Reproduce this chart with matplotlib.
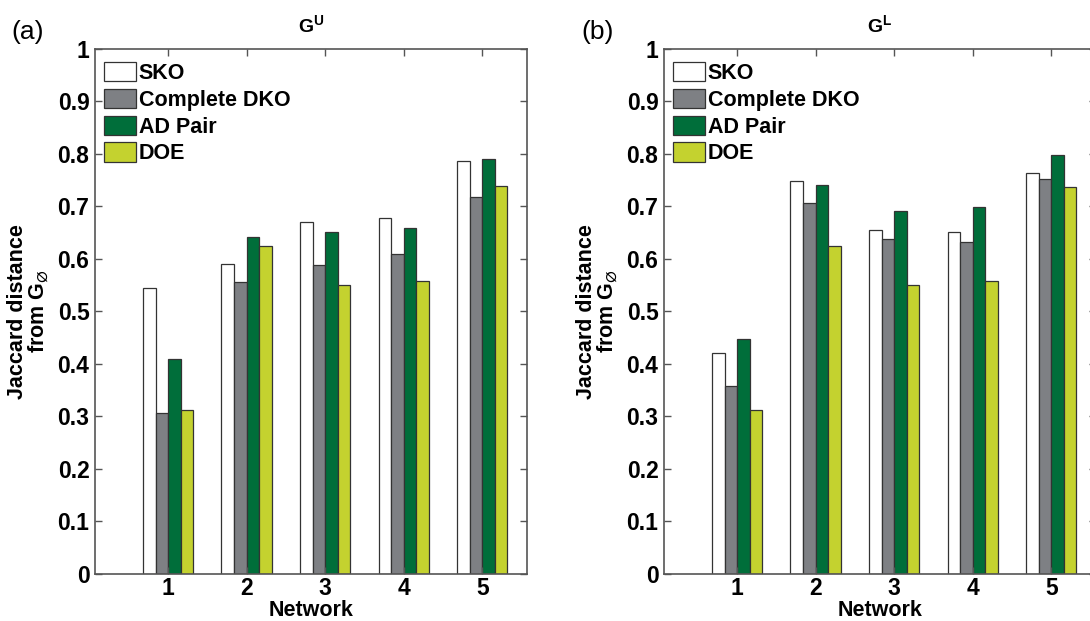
import numpy as np
import matplotlib
matplotlib.use("Agg")
import matplotlib.pyplot as plt

plt.rcParams['font.family'] = ['Liberation Sans', 'DejaVu Sans']
plt.rcParams['font.weight'] = 'bold'
plt.rcParams['mathtext.fontset'] = 'custom'
plt.rcParams['mathtext.rm'] = 'Liberation Sans:bold'
plt.rcParams['mathtext.bf'] = 'Liberation Sans:bold'
plt.rcParams['mathtext.it'] = 'Liberation Sans:bold:italic'
plt.rcParams['mathtext.fallback'] = 'stixsans'

# data
networks = ['1', '2', '3', '4', '5']
series = ['SKO', 'Complete DKO', 'AD Pair', 'DOE']

gu_sko = [0.545, 0.590, 0.671, 0.679, 0.787]
gu_dko = [0.307, 0.557, 0.589, 0.610, 0.718]
gu_ad = [0.409, 0.641, 0.651, 0.659, 0.790]
gu_doe = [0.312, 0.624, 0.550, 0.559, 0.739]

gl_sko = [0.420, 0.748, 0.655, 0.651, 0.763]
gl_dko = [0.359, 0.706, 0.639, 0.633, 0.753]
gl_ad = [0.448, 0.740, 0.692, 0.699, 0.799]
gl_doe = [0.312, 0.624, 0.550, 0.559, 0.738]

colors = ['#ffffff', '#7e8084', '#006e3a', '#c4d22f']
edge = '#333333'
spine_col = '#555555'


def draw_panel(ax, values, title, tag):
    x = np.arange(1, len(networks) + 1)
    w = 0.16
    for i, (vals, name) in enumerate(zip(values, series)):
        ax.bar(x + (i - 1.5) * w, vals, w, color=colors[i], edgecolor=edge,
               linewidth=0.9, label=name)
    ax.set_xlim(0.07, 5.57)
    ax.set_ylim(0, 1)
    ax.set_xticks(x)
    ax.set_xticklabels(networks)
    ax.set_yticks(np.arange(0, 1.01, 0.1))
    ax.set_yticklabels(['0'] + ['%.1f' % v for v in np.arange(0.1, 0.95, 0.1)] + ['1'])
    ax.tick_params(direction='in', length=5, width=1, color=spine_col,
                   top=True, right=True, labelsize=16.5, pad=4)
    ax.tick_params(axis='x', pad=2)
    for s in ax.spines.values():
        s.set_color(spine_col)
        s.set_linewidth(1.2)
    ax.set_xlabel('Network', fontsize=15.5, fontweight='bold', labelpad=0)
    ax.set_ylabel('Jaccard distance\nfrom $\\mathbf{G}_{\\varnothing}$', fontsize=15.5,
                  fontweight='bold', labelpad=5, linespacing=0.9)
    ax.set_title('$\\mathbf{G^{U}}$' if title == 'U' else '$\\mathbf{G^{L}}$',
                 fontsize=14, pad=12)
    ax.text(-0.155, 1.01, tag, transform=ax.transAxes, fontsize=19,
            fontweight='normal', ha='center', va='bottom')
    ax.legend(loc='upper left', bbox_to_anchor=(0.02, 0.975), frameon=False,
              fontsize=15.5, handlelength=1.5, handleheight=1.0,
              handletextpad=0.12, labelspacing=0.22, borderpad=0,
              borderaxespad=0)


fig = plt.figure(figsize=(10.9, 6.21), dpi=100)
ax1 = fig.add_axes([0.0872, 0.0757, 0.3963, 0.8454])
ax2 = fig.add_axes([0.6092, 0.0757, 0.3963, 0.8454])

draw_panel(ax1, [gu_sko, gu_dko, gu_ad, gu_doe], 'U', '(a)')
draw_panel(ax2, [gl_sko, gl_dko, gl_ad, gl_doe], 'L', '(b)')

fig.savefig('out.png', dpi=100)
